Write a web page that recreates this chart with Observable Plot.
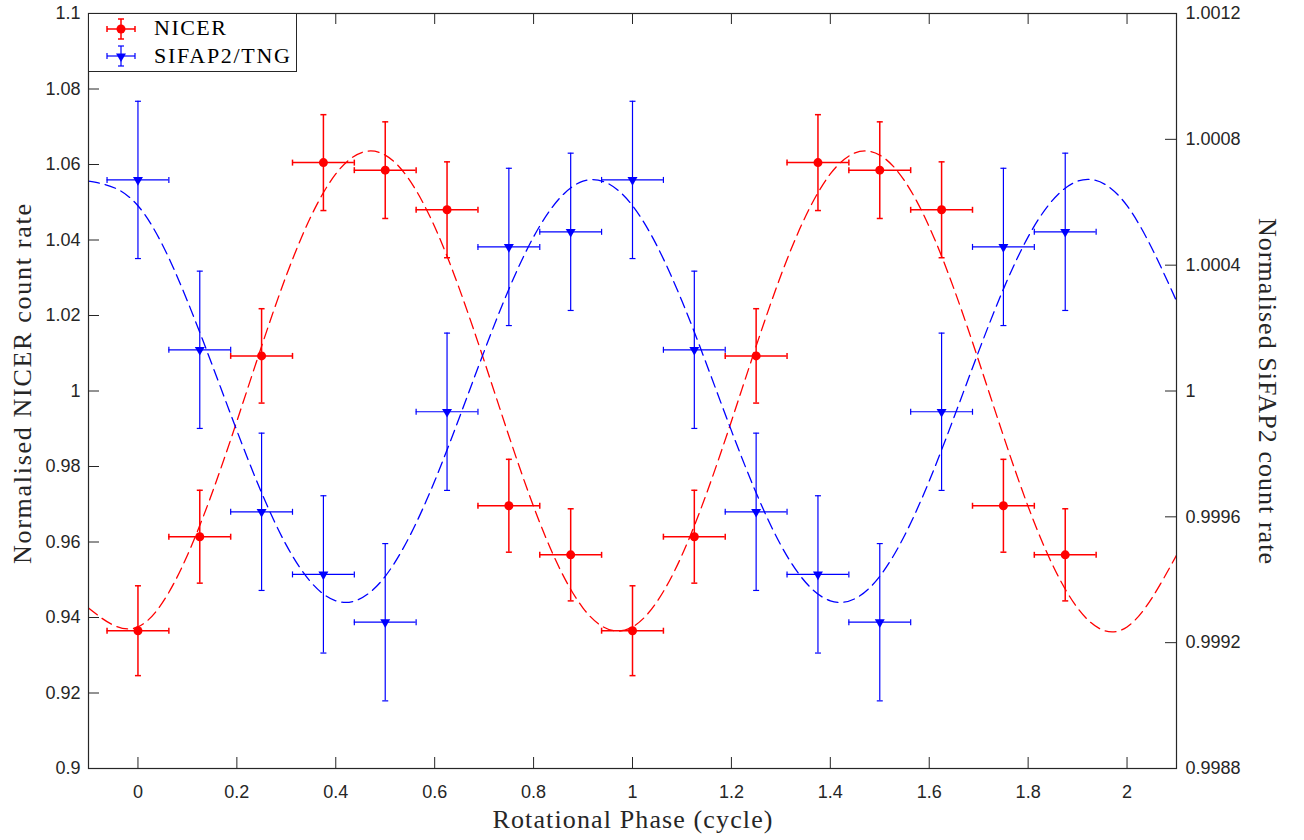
<!DOCTYPE html>
<html>
<head>
<meta charset="utf-8">
<script src="https://cdn.jsdelivr.net/npm/d3@7"></script>
<script src="https://cdn.jsdelivr.net/npm/@observablehq/plot@0.6"></script>
<style>
  html, body { margin: 0; padding: 0; background: #fff; }
  #wrap { position: relative; width: 1304px; height: 840px; overflow: hidden; }
  #legend { position: absolute; left: 88px; top: 13px; width: 209px; height: 59px; box-sizing: border-box; border: 1px solid #262626; background: #fff; }
</style>
</head>
<body>
<div id="wrap">
  <div id="chart"></div>
  <div id="legend">
    <svg width="207" height="57" style="display:block">
      <g stroke="#ff0000" stroke-width="1.5" fill="none">
        <line x1="18" y1="15" x2="46" y2="15"/>
        <line x1="32" y1="5" x2="32" y2="25"/>
        <line x1="18" y1="12" x2="18" y2="18"/><line x1="46" y1="12" x2="46" y2="18"/>
        <line x1="29" y1="5" x2="35" y2="5"/><line x1="29" y1="25" x2="35" y2="25"/>
      </g>
      <circle cx="32" cy="15" r="4.5" fill="#ff0000"/>
      <g stroke="#0000ff" stroke-width="1.2" fill="none">
        <line x1="18" y1="42" x2="46" y2="42"/>
        <line x1="32" y1="32" x2="32" y2="52"/>
        <line x1="18" y1="39" x2="18" y2="45"/><line x1="46" y1="39" x2="46" y2="45"/>
        <line x1="29" y1="32" x2="35" y2="32"/><line x1="29" y1="52" x2="35" y2="52"/>
      </g>
      <path d="M27,39.5 L37,39.5 L32,48 Z" fill="#0000ff"/>
      <text id="lg1" x="65" y="21" font-family="Liberation Serif, Times New Roman, serif" font-size="22" fill="#000" textLength="72" lengthAdjust="spacing">NICER</text>
      <text id="lg2" x="65" y="48.5" font-family="Liberation Serif, Times New Roman, serif" font-size="22" fill="#000" textLength="136" lengthAdjust="spacing">SIFAP2/TNG</text>
    </svg>
  </div>
</div>
<script>
// ---- data ----
const phase = [0, 0.125, 0.25, 0.375, 0.5, 0.625, 0.75, 0.875, 1, 1.125, 1.25, 1.375, 1.5, 1.625, 1.75, 1.875];
const phaseHalfWidth = [0.0625, 0.0625, 0.0625, 0.0625, 0.0625, 0.0625, 0.0625, 0.0625, 0.0625, 0.0625, 0.0625, 0.0625, 0.0625, 0.0625, 0.0625, 0.0625];
const nicerRate = [0.9365, 0.9614, 1.0093, 1.0605, 1.0585, 1.0480, 0.9696, 0.9566, 0.9365, 0.9614, 1.0093, 1.0605, 1.0585, 1.0480, 0.9696, 0.9566];
const nicerErr  = [0.0119, 0.0123, 0.0125, 0.0127, 0.0128, 0.0127, 0.0123, 0.0122, 0.0119, 0.0123, 0.0125, 0.0127, 0.0128, 0.0127, 0.0123, 0.0122];
const sifapRate = [1.000671, 1.000131, 0.999616, 0.999417, 0.999265, 0.999934, 1.000458, 1.000506, 1.000671, 1.000131, 0.999616, 0.999417, 0.999265, 0.999934, 1.000458, 1.000506];
const sifapErr  = [0.00025, 0.00025, 0.00025, 0.00025, 0.00025, 0.00025, 0.00025, 0.00025, 0.00025, 0.00025, 0.00025, 0.00025, 0.00025, 0.00025, 0.00025, 0.00025];
// dashed model curves
const curvePhase = [-0.1, 0, 0.1, 0.2, 0.3, 0.4, 0.5, 0.6, 0.7, 0.8, 0.9, 1.0, 1.1, 1.2, 1.3, 1.4, 1.5, 1.6, 1.7, 1.8, 1.9, 2.0, 2.1];
const nicerModel = [0.9425, 0.9375, 0.9565, 0.9920, 1.0306, 1.0575, 1.0625, 1.0435, 1.0080, 0.9694, 0.9425, 0.9375, 0.9565, 0.9920, 1.0306, 1.0575, 1.0625, 1.0435, 1.0080, 0.9694, 0.9425, 0.9375, 0.9565];
const sifapModel = [1.000667, 1.000589, 1.000286, 0.999874, 0.999510, 0.999333, 0.999411, 0.999714, 1.000126, 1.000490, 1.000667, 1.000589, 1.000286, 0.999874, 0.999510, 0.999333, 0.999411, 0.999714, 1.000126, 1.000490, 1.000667, 1.000589, 1.000286];
// axes
const xTicks = [0, 0.2, 0.4, 0.6, 0.8, 1, 1.2, 1.4, 1.6, 1.8, 2];
const xTickLabels = ["0", "0.2", "0.4", "0.6", "0.8", "1", "1.2", "1.4", "1.6", "1.8", "2"];
const yTicks = [0.9, 0.92, 0.94, 0.96, 0.98, 1, 1.02, 1.04, 1.06, 1.08, 1.1];
const yTickLabels = ["0.9", "0.92", "0.94", "0.96", "0.98", "1", "1.02", "1.04", "1.06", "1.08", "1.1"];
const y2Ticks = [0.9988, 0.9992, 0.9996, 1, 1.0004, 1.0008, 1.0012];
const y2TickLabels = ["0.9988", "0.9992", "0.9996", "1", "1.0004", "1.0008", "1.0012"];
const xDomain = [-0.1, 2.1];
const yDomain = [0.9, 1.1];
const y2Domain = [0.9988, 1.0012];
const xLabel = "Rotational Phase (cycle)";
const yLabel = "Normalised NICER count rate";
const y2Label = "Normalised SiFAP2 count rate";

// map right-axis values onto the left scale
const toLeft = r => yDomain[0] + (r - y2Domain[0]) * (yDomain[1] - yDomain[0]) / (y2Domain[1] - y2Domain[0]);

const nicer = phase.map((p, i) => ({p, w: phaseHalfWidth[i], y: nicerRate[i], lo: nicerRate[i] - nicerErr[i], hi: nicerRate[i] + nicerErr[i]}));
const sifap = phase.map((p, i) => ({p, w: phaseHalfWidth[i], y: toLeft(sifapRate[i]), lo: toLeft(sifapRate[i] - sifapErr[i]), hi: toLeft(sifapRate[i] + sifapErr[i])}));
const nicerCurve = curvePhase.map((p, i) => ({p, y: nicerModel[i]}));
const sifapCurve = curvePhase.map((p, i) => ({p, y: toLeft(sifapModel[i])}));
const y2TicksLeft = y2Ticks.map(toLeft);

const W = 1304, H = 840, ML = 88, MR = 128, MT = 13, MB = 72;
const innerW = W - ML - MR, innerH = H - MT - MB;
const TL = 11; // inward tick length
const axisCol = "#262626";
const RED = "#ff0000", BLUE = "#0000ff";

const hCap = {draw(ctx) { ctx.moveTo(-3, 0); ctx.lineTo(3, 0); }};
const vCap = {draw(ctx) { ctx.moveTo(0, -3); ctx.lineTo(0, 3); }};

function errorMarks(data, color, sw) {
  return [
    Plot.ruleX(data, {x: "p", y1: "lo", y2: "hi", stroke: color, strokeWidth: sw}),
    Plot.ruleY(data, {y: "y", x1: d => d.p - d.w, x2: d => d.p + d.w, stroke: color, strokeWidth: sw}),
    Plot.dot(data, {x: "p", y: "lo", symbol: hCap, fill: "none", stroke: color, strokeWidth: sw}),
    Plot.dot(data, {x: "p", y: "hi", symbol: hCap, fill: "none", stroke: color, strokeWidth: sw}),
    Plot.dot(data, {x: d => d.p - d.w, y: "y", symbol: vCap, fill: "none", stroke: color, strokeWidth: sw}),
    Plot.dot(data, {x: d => d.p + d.w, y: "y", symbol: vCap, fill: "none", stroke: color, strokeWidth: sw})
  ];
}

const serif = "Liberation Serif, Times New Roman, serif";

const chart = Plot.plot({
  width: W, height: H,
  marginLeft: ML, marginRight: MR, marginTop: MT, marginBottom: MB,
  style: {fontFamily: "Liberation Sans, Arial, sans-serif", fontSize: "18px", color: axisCol, background: "#fff", overflow: "visible"},
  x: {domain: xDomain},
  y: {domain: yDomain},
  marks: [
    Plot.line(nicerCurve, {x: "p", y: "y", stroke: RED, strokeWidth: 1.3, strokeDasharray: "11,6", curve: "natural", clip: true}),
    Plot.line(sifapCurve, {x: "p", y: "y", stroke: BLUE, strokeWidth: 1.3, strokeDasharray: "11,6", curve: "natural", clip: true}),
    ...errorMarks(nicer, RED, 1.5),
    Plot.dot(nicer, {x: "p", y: "y", r: 4.5, fill: RED, stroke: "none"}),
    ...errorMarks(sifap, BLUE, 1.2),
    Plot.dot(sifap, {x: "p", y: "y", symbol: "triangle", rotate: 180, r: 3.7, fill: BLUE, stroke: "none"}),
    Plot.frame({stroke: axisCol, strokeWidth: 1.2}),
    Plot.tickX(xTicks, {x: d => d, insetTop: innerH - TL, stroke: axisCol}),
    Plot.tickX(xTicks, {x: d => d, insetBottom: innerH - TL, stroke: axisCol}),
    Plot.tickY(yTicks, {y: d => d, insetRight: innerW - TL, stroke: axisCol}),
    Plot.tickY(y2TicksLeft, {y: d => d, insetLeft: innerW - TL, stroke: axisCol}),
    Plot.axisX({ticks: xTicks, tickFormat: d => xTickLabels[xTicks.findIndex(v => Math.abs(v - d) < 1e-9)], tickSize: 0, tickPadding: 17, label: null}),
    Plot.axisY({ticks: yTicks, tickFormat: d => yTickLabels[yTicks.findIndex(v => Math.abs(v - d) < 1e-9)], tickSize: 0, tickPadding: 8, label: null}),
    Plot.axisY({anchor: "right", ticks: y2TicksLeft, tickFormat: d => y2TickLabels[y2TicksLeft.findIndex(v => Math.abs(v - d) < 1e-9)], tickSize: 0, tickPadding: 9, label: null}),
    Plot.text([xLabel], {text: d => d, frameAnchor: "bottom", textAnchor: "middle", lineAnchor: "middle", dy: 51, fontFamily: serif, fontSize: 26, fill: axisCol}),
    Plot.text([yLabel], {text: d => d, frameAnchor: "left", textAnchor: "middle", lineAnchor: "middle", dx: -66, dy: -7, rotate: -90, fontFamily: serif, fontSize: 26, fill: axisCol}),
    Plot.text([y2Label], {text: d => d, frameAnchor: "right", textAnchor: "middle", lineAnchor: "middle", dx: 91, rotate: 90, fontFamily: serif, fontSize: 26, fill: axisCol})
  ]
});

// stretch serif titles to the reference's wider letterforms
const lengths = new Map([[xLabel, 280], [yLabel, 360], [y2Label, 346]]);
chart.querySelectorAll("text").forEach(t => {
  const L = lengths.get(t.textContent);
  if (L) { t.setAttribute("textLength", L); t.setAttribute("lengthAdjust", "spacing"); }
});
document.getElementById("chart").appendChild(chart);
</script>
</body>
</html>
